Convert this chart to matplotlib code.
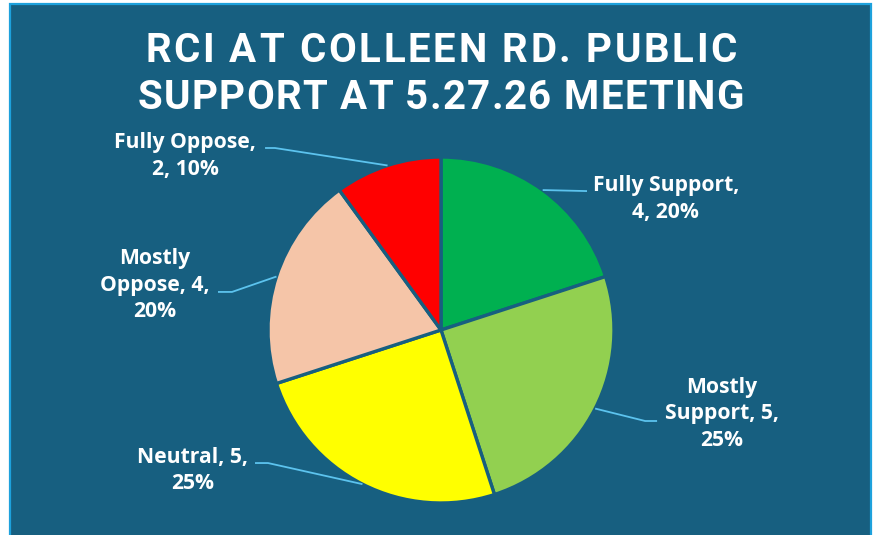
import numpy as np
import matplotlib.pyplot as plt
from matplotlib.patches import Rectangle

# Data
categories = ['Fully Support', 'Mostly Support', 'Neutral', 'Mostly Oppose', 'Fully Oppose']
counts = [4, 5, 5, 4, 2]
colors = ['#00B050', '#92D050', '#FFFF00', '#F5C5A8', '#FF0000']
title_lines = ['RCI AT COLLEEN RD. PUBLIC', 'SUPPORT AT 5.27.26 MEETING']

# label text (line-broken as in the chart) and placement in pie units
label_text = ['Fully Support,\n4, 20%', 'Mostly\nSupport, 5,\n25%', 'Neutral, 5,\n25%',
              'Mostly\nOppose, 4,\n20%', 'Fully Oppose,\n2, 10%']
label_pos = [(1.30, 0.757), (1.624, -0.485), (-1.434, -0.812), (-1.653, 0.26), (-1.48, 1.006)]
leader_elbow = [(0.844, 0.803), (1.18, -0.526), (-1.0, -0.769), (-1.208, 0.22), (-0.96, 1.052)]
leader_end = [(0.844, 0.803), (1.249, -0.526), (-1.075, -0.769), (-1.289, 0.22), (-1.017, 1.052)]

BG = '#175F80'
W, H = 877, 535
R = 173.0          # pie radius in px
CX, CY = 441, 330  # pie centre in px (from top-left)

fig = plt.figure(figsize=(W / 100, H / 100), dpi=100)
fig.patch.set_facecolor('white')
fig.patches.append(Rectangle((10 / W, -0.05), 861 / W, 1.05 - 4 / H, transform=fig.transFigure,
                             facecolor=BG, edgecolor='#1DA1DC', linewidth=1.6, zorder=-5))

ax = fig.add_axes([0, 0, 1, 1])
ax.set_zorder(2)

wedges, _ = ax.pie(counts, colors=colors, startangle=90, counterclock=False, radius=1,
                   wedgeprops=dict(edgecolor=BG, linewidth=2.4))
# pie() resets limits, so put them back so that 1 unit = R px
ax.set_aspect('auto')
ax.set_xlim(-CX / R, (W - CX) / R)
ax.set_ylim(-(H - CY) / R, CY / R)
ax.axis('off')
ax.patch.set_alpha(0)

LFONT = dict(fontsize=15.2, fontweight='bold', family=['Open Sans', 'Roboto'])
for w, txt, pos, elb, end in zip(wedges, label_text, label_pos, leader_elbow, leader_end):
    ang = np.deg2rad((w.theta1 + w.theta2) / 2)
    start = (np.cos(ang), np.sin(ang))
    ax.plot([start[0], elb[0], end[0]], [start[1], elb[1], end[1]], color='#5CC3EE',
            lw=1.3, solid_capstyle='butt', clip_on=False)
    ax.text(pos[0], pos[1], txt, ha='center', va='center', color='white',
            linespacing=1.33, **LFONT)

# title with letter spacing, placed char by char
renderer = fig.canvas.get_renderer()
TFONT = dict(fontsize=29, fontweight='bold', family='Roboto')


def spaced_title(line, y_px, target_w):
    widths = []
    for ch in line:
        if ch == ' ':
            t = fig.text(0, 0, 'a a', **TFONT)
            t2 = fig.text(0, 0, 'aa', **TFONT)
            wd = t.get_window_extent(renderer).width - t2.get_window_extent(renderer).width
            t.remove(); t2.remove()
        else:
            t = fig.text(0, 0, ch, **TFONT)
            wd = t.get_window_extent(renderer).width
            t.remove()
        widths.append(wd)
    track = (target_w - sum(widths)) / (len(line) - 1)
    x = CX - target_w / 2
    for ch, wd in zip(line, widths):
        if ch != ' ':
            fig.text(x / W, 1 - y_px / H, ch, color='white', ha='left', va='center', **TFONT)
        x += wd + track


spaced_title(title_lines[0], 51, 592)
spaced_title(title_lines[1], 98, 606)

fig.savefig('out.png', dpi=100, facecolor=fig.get_facecolor())
